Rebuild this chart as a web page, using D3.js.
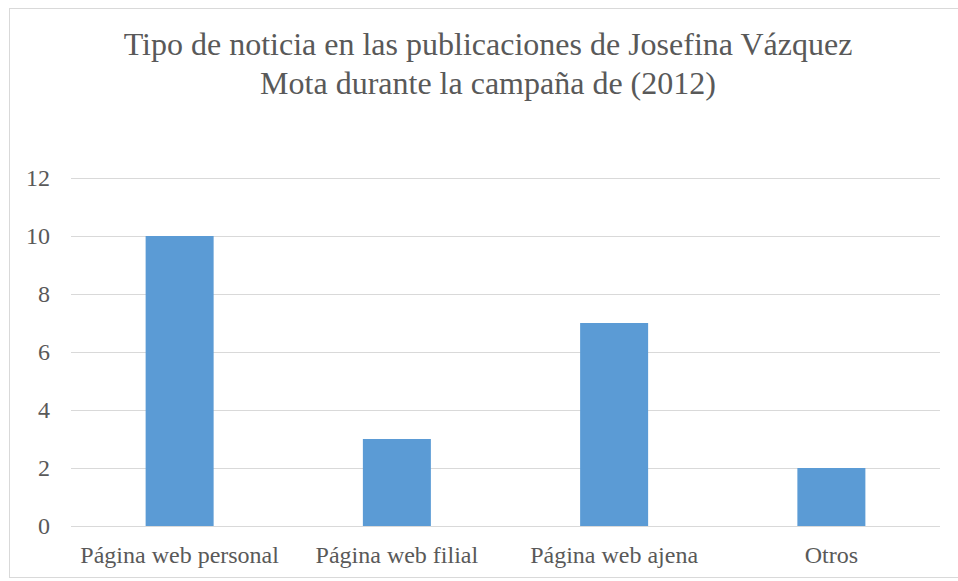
<!DOCTYPE html>
<html>
<head>
<meta charset="utf-8">
<script src="https://cdn.jsdelivr.net/npm/d3@7"></script>
<style>
  body { margin: 0; background: #fff; }
</style>
</head>
<body>
<div id="chart"></div>
<script>
const categorias = ["Página web personal", "Página web filial", "Página web ajena", "Otros"];
const valores = [10, 3, 7, 2];
const ticksY = [0, 2, 4, 6, 8, 10, 12];
const titulo = ["Tipo de noticia en las publicaciones de Josefina Vázquez", "Mota durante la campaña de (2012)"];

const fuente = "'Liberation Serif'";

var margin = { top: 178, right: 18, bottom: 55, left: 71 },
  width = 958 - margin.left - margin.right,
  height = 581 - margin.top - margin.bottom;

var svgRoot = d3
  .select("#chart")
  .append("svg")
  .attr("width", 958)
  .attr("height", 581);

// marco del gráfico
svgRoot
  .append("rect")
  .attr("x", 9.5)
  .attr("y", 8.5)
  .attr("width", 960)
  .attr("height", 569)
  .attr("fill", "none")
  .attr("stroke", "#d9d9d9")
  .attr("stroke-width", 1);

svgRoot
  .selectAll(".titulo")
  .data(titulo)
  .enter()
  .append("text")
  .attr("class", "titulo")
  .attr("x", 488)
  .attr("y", (d, i) => 55 + i * 39)
  .attr("text-anchor", "middle")
  .attr("fill", "#595959")
  .style("font-family", fuente)
  .style("font-size", "32px")
  .text((d) => d);

var svg = svgRoot
  .append("g")
  .attr("transform", "translate(" + margin.left + "," + margin.top + ")");

var x = d3
  .scaleBand()
  .domain(categorias)
  .range([0, width])
  .paddingInner(0.687)
  .paddingOuter(0.3435);

var y = d3.scaleLinear().domain([0, 12]).range([height, 0]);

// líneas de cuadrícula
svg
  .append("g")
  .attr("class", "grid")
  .call(d3.axisLeft(y).tickValues(ticksY).tickSize(-width).tickFormat(""))
  .call((g) => g.select(".domain").remove())
  .call((g) => g.selectAll("line").attr("stroke", "#d9d9d9").attr("stroke-width", 1));

svg
  .append("g")
  .call(d3.axisLeft(y).tickValues(ticksY).tickSize(0).tickPadding(21))
  .call((g) => g.select(".domain").remove())
  .selectAll("text")
  .style("font-size", "24px")
  .style("font-family", fuente)
  .attr("fill", "#595959");

svg
  .append("g")
  .attr("transform", `translate(0,${height})`)
  .call(d3.axisBottom(x).tickSize(0).tickPadding(20))
  .call((g) => g.select(".domain").remove())
  .selectAll("text")
  .style("font-size", "24px")
  .style("font-family", fuente)
  .attr("fill", "#595959");

svg
  .selectAll(".bar")
  .data(valores)
  .enter()
  .append("rect")
  .attr("class", "bar")
  .attr("fill", "#5b9bd5")
  .attr("x", (d, i) => x(categorias[i]))
  .attr("width", x.bandwidth())
  .attr("y", (d) => y(d))
  .attr("height", (d) => height - y(d));
</script>
</body>
</html>
